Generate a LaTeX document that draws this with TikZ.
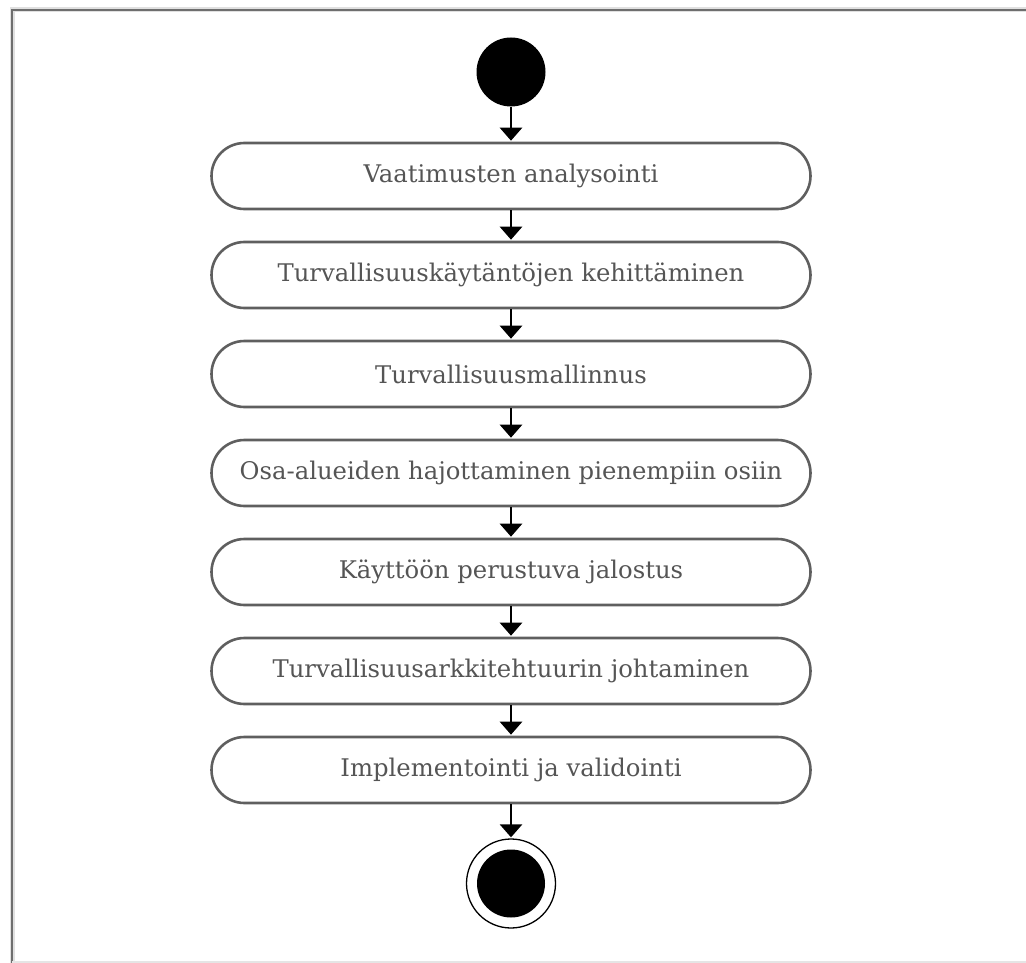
\documentclass[tikz,border=0pt]{standalone}
\usepackage{fontspec}
\setmainfont{DejaVu Serif}
\usetikzlibrary{arrows.meta}
\definecolor{boxline}{HTML}{5F5F5F}
\definecolor{txt}{HTML}{555555}
\definecolor{frameline}{HTML}{6E6E6E}
\begin{document}
\begin{tikzpicture}[x=1pt,y=-1pt,
  stepbox/.style={draw=boxline, line width=2.6pt, rounded corners=33pt,
    minimum width=599pt, minimum height=66pt, inner sep=0pt,
    text=txt, font=\fontsize{24.3}{28}\selectfont},
  flow/.style={line width=2.8pt, draw=black,
    -{Triangle[width=22pt,length=13pt]}, shorten >=1pt},
  startdot/.style={circle, fill=black, minimum size=69pt, inner sep=0pt},
  enddot/.style={circle, draw=black, line width=1.3pt, fill=white,
    minimum size=89pt, inner sep=0pt},
  enddotin/.style={circle, fill=black, minimum size=68pt, inner sep=0pt}]
\useasboundingbox (0,0) rectangle (1026,963);
% frame
\draw[line width=5pt, black!12] (12,966) -- (12,10) -- (1030,10);
\draw[line width=2pt, frameline] (12,966) -- (12,10) -- (1030,10);
\draw[line width=1.5pt, black!10] (12,962) -- (1030,962);
% nodes
\node[startdot] (start) at (511,72) {};
\node[stepbox] (s1) at (511,176) {Vaatimusten analysointi};
\node[stepbox] (s2) at (511,275) {Turvallisuuskäytäntöjen kehittäminen};
\node[stepbox] (s3) at (511,374) {Turvallisuusmallinnus};
\node[stepbox] (s4) at (511,473) {Osa-alueiden hajottaminen pienempiin osiin};
\node[stepbox] (s5) at (511,572) {Käyttöön perustuva jalostus};
\node[stepbox] (s6) at (511,671) {Turvallisuusarkkitehtuurin johtaminen};
\node[stepbox] (s7) at (511,770) {Implementointi ja validointi};
\node[enddot] (end) at (511,883.5) {};
\node[enddotin] (endin) at (end.center) {};
% connectors
\draw[flow] (start.south) -- (s1.north);
\draw[flow] (s1.south) -- (s2.north);
\draw[flow] (s2.south) -- (s3.north);
\draw[flow] (s3.south) -- (s4.north);
\draw[flow] (s4.south) -- (s5.north);
\draw[flow] (s5.south) -- (s6.north);
\draw[flow] (s6.south) -- (s7.north);
\draw[flow] (s7.south) -- (end.north);
\end{tikzpicture}
\end{document}
